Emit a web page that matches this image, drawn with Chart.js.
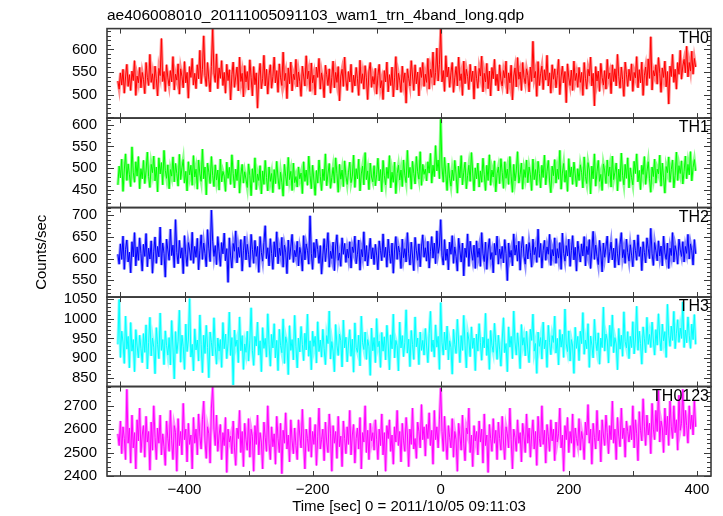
<!DOCTYPE html>
<html>
<head>
  <meta charset="UTF-8">
  <title>ae406008010 WAM light curve</title>
  <script src="https://cdn.jsdelivr.net/npm/chart.js"></script>
  <style>
    body { margin: 0; background: #fff; }
    #wrap { width: 723px; height: 516px; }
  </style>
</head>
<body>
  <div id="wrap"><canvas id="lc" width="723" height="516"></canvas></div>

  <script>
    // bin times, sec from 2011/10/05 09:11:03 (2 s bins)
    const times = [
      -504,-502,-500,-498,-496,-494,-492,-490,-488,-486,-484,-482,-480,-478,-476,-474,-472,-470,-468,-466,
      -464,-462,-460,-458,-456,-454,-452,-450,-448,-446,-444,-442,-440,-438,-436,-434,-432,-430,-428,-426,
      -424,-422,-420,-418,-416,-414,-412,-410,-408,-406,-404,-402,-400,-398,-396,-394,-392,-390,-388,-386,
      -384,-382,-380,-378,-376,-374,-372,-370,-368,-366,-364,-362,-360,-358,-356,-354,-352,-350,-348,-346,
      -344,-342,-340,-338,-336,-334,-332,-330,-328,-326,-324,-322,-320,-318,-316,-314,-312,-310,-308,-306,
      -304,-302,-300,-298,-296,-294,-292,-290,-288,-286,-284,-282,-280,-278,-276,-274,-272,-270,-268,-266,
      -264,-262,-260,-258,-256,-254,-252,-250,-248,-246,-244,-242,-240,-238,-236,-234,-232,-230,-228,-226,
      -224,-222,-220,-218,-216,-214,-212,-210,-208,-206,-204,-202,-200,-198,-196,-194,-192,-190,-188,-186,
      -184,-182,-180,-178,-176,-174,-172,-170,-168,-166,-164,-162,-160,-158,-156,-154,-152,-150,-148,-146,
      -144,-142,-140,-138,-136,-134,-132,-130,-128,-126,-124,-122,-120,-118,-116,-114,-112,-110,-108,-106,
      -104,-102,-100,-98,-96,-94,-92,-90,-88,-86,-84,-82,-80,-78,-76,-74,-72,-70,-68,-66,
      -64,-62,-60,-58,-56,-54,-52,-50,-48,-46,-44,-42,-40,-38,-36,-34,-32,-30,-28,-26,
      -24,-22,-20,-18,-16,-14,-12,-10,-8,-6,-4,-2,0,2,4,6,8,10,12,14,
      16,18,20,22,24,26,28,30,32,34,36,38,40,42,44,46,48,50,52,54,
      56,58,60,62,64,66,68,70,72,74,76,78,80,82,84,86,88,90,92,94,
      96,98,100,102,104,106,108,110,112,114,116,118,120,122,124,126,128,130,132,134,
      136,138,140,142,144,146,148,150,152,154,156,158,160,162,164,166,168,170,172,174,
      176,178,180,182,184,186,188,190,192,194,196,198,200,202,204,206,208,210,212,214,
      216,218,220,222,224,226,228,230,232,234,236,238,240,242,244,246,248,250,252,254,
      256,258,260,262,264,266,268,270,272,274,276,278,280,282,284,286,288,290,292,294,
      296,298,300,302,304,306,308,310,312,314,316,318,320,322,324,326,328,330,332,334,
      336,338,340,342,344,346,348,350,352,354,356,358,360,362,364,366,368,370,372,374,
      376,378,380,382,384,386,388,390,392,394,396,398
    ];

    const th0 = [
      530,512,548,521,556,503,539,567,518,544,509,552,531,575,498,541,526,560,515,549,
      533,502,571,538,520,589,527,546,512,563,535,497,558,542,624,529,551,507,566,537,
      519,553,528,584,510,545,532,568,501,557,540,515,573,526,549,492,562,538,580,521,
      547,513,566,535,598,524,556,630,542,518,571,533,506,562,645,548,527,590,513,559,
      536,575,520,549,503,567,531,555,488,544,572,516,539,561,508,583,529,547,495,564,
      528,551,510,577,538,497,562,522,548,470,541,569,513,535,587,519,556,501,543,566,
      514,540,583,526,553,505,568,537,520,594,531,547,491,559,524,572,508,545,533,578,
      517,550,529,496,563,541,519,586,535,552,507,570,526,543,499,561,538,580,512,548,
      530,493,565,544,520,557,503,538,574,515,549,527,562,486,541,556,518,583,532,509,
      551,528,567,505,543,519,560,535,498,576,525,546,512,564,537,489,552,571,516,540,
      523,558,501,542,567,515,531,489,553,528,572,506,544,520,561,495,537,584,510,547,
      532,505,563,527,548,481,557,536,519,575,541,509,566,524,550,497,560,538,571,518,
      545,527,580,512,556,538,594,521,549,603,530,567,645,528,553,507,586,539,561,516,
      548,571,505,537,562,519,583,531,546,498,574,524,556,540,511,567,529,552,490,563,
      536,514,558,541,585,506,547,528,569,513,552,497,560,535,578,520,545,508,566,532,
      519,553,537,574,502,548,526,565,488,541,559,517,582,534,550,509,571,538,524,557,
      542,506,561,529,618,537,551,496,573,520,546,563,511,555,532,587,519,548,503,566,
      534,557,515,542,578,500,539,563,526,551,482,568,537,520,554,509,574,531,547,516,
      560,527,549,498,571,536,512,556,541,583,519,547,475,562,530,552,507,569,538,521,
      553,512,578,535,548,502,566,529,557,519,589,540,514,561,533,496,572,545,518,556,
      531,568,507,549,537,584,515,555,526,572,498,543,561,520,579,536,628,510,553,541,
      566,523,582,547,505,559,538,574,517,551,479,563,540,589,527,556,512,571,545,598,
      534,563,578,548,607,539,571,552,596,545,580,561
    ];
    const th1 = [
      462,505,478,521,447,496,533,472,510,485,458,549,491,468,515,482,527,453,499,476,
      518,465,494,537,481,456,509,490,528,471,503,446,524,487,513,462,541,495,477,508,
      453,497,482,526,469,511,488,459,532,474,501,520,466,493,448,515,485,507,461,529,
      480,498,452,519,487,470,544,476,503,439,512,491,465,527,484,458,508,473,496,450,
      521,469,493,482,447,514,477,502,463,531,488,455,498,472,519,443,485,509,466,492,
      475,456,510,483,437,499,468,524,451,487,472,506,441,494,463,518,479,448,503,470,
      488,444,497,465,516,478,452,491,468,436,509,482,460,525,474,493,449,512,467,481,
      457,503,476,489,442,515,470,496,461,528,484,453,507,473,438,495,466,519,481,449,
      498,472,533,460,487,511,454,479,502,466,524,488,445,509,475,496,458,517,483,463,
      491,514,467,482,530,456,499,476,521,448,487,505,462,536,474,494,451,512,480,469,
      506,460,485,523,471,497,446,518,483,462,502,477,529,455,491,468,514,442,488,507,
      473,496,458,519,484,467,541,479,502,452,516,488,464,527,492,475,538,461,509,486,
      498,471,515,489,534,466,507,481,552,494,519,476,612,503,468,525,485,449,512,477,
      459,496,472,518,487,443,505,478,529,462,491,514,453,483,507,470,536,489,448,501,
      476,512,457,494,468,523,485,449,507,472,531,461,496,480,517,446,488,503,465,522,
      490,454,515,477,498,463,527,482,445,509,471,494,538,466,486,512,452,497,479,519,
      467,503,485,449,521,474,497,461,516,488,455,507,479,530,462,493,518,471,444,505,
      483,520,466,498,475,541,452,489,511,468,495,447,522,480,503,463,514,487,458,499,
      472,508,490,455,526,481,465,513,496,441,505,476,533,459,492,518,470,486,449,510,
      494,465,519,482,503,457,528,474,491,512,448,498,470,535,483,462,509,477,524,455,
      501,479,462,516,488,533,469,495,451,507,486,527,463,492,515,476,445,503,481,521,
      466,498,487,530,459,512,478,443,504,490,526,468,497,519,455,484,537,472,506,488,
      517,464,493,528,476,509,485,538,471,502,520,494
    ];
    const th2 = [
      610,587,634,598,652,575,621,643,592,615,567,639,604,660,583,627,596,648,612,571,
      633,605,658,581,624,599,641,566,617,650,589,628,604,673,585,636,612,557,645,620,
      596,668,607,631,579,690,614,588,642,601,625,565,653,610,582,637,620,596,661,589,
      628,603,647,574,619,655,598,636,612,581,667,624,593,712,640,605,630,586,651,617,
      582,637,611,659,595,623,545,648,606,578,635,617,664,590,626,603,644,571,618,652,
      597,633,610,580,656,621,589,642,605,628,568,651,614,594,637,676,600,625,583,646,
      612,575,639,604,662,588,624,607,649,580,631,615,565,643,598,627,656,591,619,604,
      640,583,626,610,571,653,597,634,619,587,699,612,575,637,602,645,621,589,630,564,
      608,646,593,625,660,580,617,600,638,572,629,655,596,613,582,648,610,635,591,622,
      601,639,578,627,614,652,588,610,643,573,621,604,662,594,630,583,617,647,599,625,
      586,633,608,574,641,619,595,657,603,626,580,645,612,589,636,566,620,651,598,629,
      614,577,645,602,623,592,660,611,585,638,606,572,649,618,596,634,581,627,655,603,
      625,594,640,578,617,651,601,636,588,664,612,629,690,607,585,644,596,622,574,638,
      610,653,589,627,605,571,647,618,592,636,560,624,603,657,582,640,615,596,631,577,
      641,603,624,582,660,611,593,638,575,620,646,598,614,567,635,608,652,587,622,600,
      628,590,644,612,549,636,603,619,583,657,608,631,594,640,573,624,651,605,587,633,
      599,637,614,580,645,609,626,591,668,603,635,578,619,642,596,627,610,656,584,621,
      606,648,589,623,601,637,575,659,612,594,630,606,645,582,618,653,597,626,571,640,
      615,592,634,606,651,583,628,609,644,577,620,663,598,631,605,586,642,613,569,636,
      603,627,652,590,616,638,597,624,579,646,611,585,633,660,602,621,589,645,614,594,
      632,608,581,643,619,596,655,605,627,572,639,614,590,648,623,600,670,611,584,637,
      618,595,641,606,629,583,652,613,598,636,577,624,607,660,592,630,615,587,645,620,
      605,639,592,628,612,656,599,634,618,585,644,611
    ];
    const th3 = [
      935,1048,902,968,941,887,1006,923,955,876,990,918,947,866,972,931,901,958,925,889,
      962,915,984,873,940,1003,906,951,928,861,977,935,899,1014,920,947,884,969,932,908,
      952,883,995,926,848,967,912,943,1021,890,958,929,872,986,917,946,1050,903,935,868,
      974,921,946,893,1009,935,864,958,912,983,927,851,966,940,906,1002,929,885,951,918,
      947,877,990,924,961,899,938,1016,907,952,833,971,930,946,889,1004,919,957,872,936,
      915,968,893,944,1027,920,882,955,931,991,908,944,866,977,925,950,903,1012,934,880,
      960,926,987,901,945,869,973,932,914,999,887,954,938,859,982,920,947,896,1008,929,
      876,951,916,980,935,894,963,921,1011,905,944,871,968,930,955,888,992,917,946,903,
      973,924,884,957,937,1019,898,942,918,866,985,933,907,961,944,878,996,926,953,891,
      936,972,905,948,865,989,927,915,958,881,1006,939,922,966,897,947,930,857,976,919,
      952,889,1000,929,943,877,965,918,954,896,983,936,871,959,924,1011,901,945,932,868,
      991,926,957,904,940,1022,913,948,879,970,935,897,1004,929,951,884,966,920,945,908,
      975,931,889,962,1018,917,946,903,984,928,955,872,1040,939,908,966,921,981,896,944,
      927,860,973,935,912,998,941,889,957,920,1008,933,876,965,946,904,979,925,951,869,
      961,918,987,940,895,953,926,1013,907,949,872,970,932,915,988,939,897,958,923,880,
      946,1002,914,937,866,979,928,955,899,1019,941,908,964,926,874,985,933,952,906,968,
      921,889,973,945,1011,918,937,862,966,930,952,898,991,924,946,877,983,939,909,957,
      940,1006,913,950,883,972,928,960,902,1024,936,917,969,893,947,931,862,978,925,955,
      894,968,937,1015,910,946,924,987,877,956,933,901,998,942,919,964,885,951,927,1029,
      918,961,946,888,983,930,1009,914,952,936,871,975,923,958,905,1017,942,926,967,899,
      955,927,992,911,946,1031,920,968,937,885,979,949,914,1003,935,960,927,991,946,908,
      972,933,1012,951,919,986,944,967,902,1036,958,930,981,945,1018,924,963,997,940,976,
      950,1042,927,971,939,1004,958,925,986,947,1010,935
    ];
    const th0123 = [
      2580,2530,2635,2495,2610,2560,2470,2770,2540,2605,2455,2660,2520,2585,2430,2640,2550,2690,2500,2575,
      2615,2480,2655,2545,2590,2425,2630,2510,2700,2565,2470,2605,2540,2660,2490,2580,2525,2445,2635,2560,
      2505,2680,2550,2470,2615,2585,2420,2645,2530,2590,2490,2710,2555,2600,2460,2625,2535,2575,2430,2650,
      2540,2600,2490,2665,2570,2515,2640,2720,2550,2475,2610,2580,2455,2690,2780,2600,2530,2660,2505,2575,
      2620,2470,2585,2530,2650,2415,2600,2545,2570,2495,2635,2520,2445,2605,2560,2680,2500,2590,2440,2625,
      2555,2510,2645,2480,2600,2570,2420,2615,2535,2660,2490,2585,2545,2430,2630,2565,2505,2700,2540,2470,
      2610,2525,2580,2450,2655,2560,2500,2625,2410,2595,2540,2670,2515,2575,2460,2640,2550,2495,2605,2530,
      2470,2640,2575,2520,2685,2545,2430,2600,2560,2505,2650,2480,2590,2535,2620,2445,2570,2690,2515,2555,
      2600,2465,2630,2545,2500,2665,2580,2420,2615,2540,2590,2475,2655,2525,2570,2440,2635,2560,2495,2610,
      2535,2680,2490,2575,2620,2455,2560,2605,2515,2650,2430,2585,2545,2700,2500,2595,2470,2625,2550,2585,
      2510,2640,2555,2470,2600,2530,2665,2490,2585,2420,2615,2560,2640,2505,2575,2450,2610,2545,2680,2530,
      2590,2460,2625,2550,2505,2650,2575,2440,2600,2535,2690,2515,2560,2475,2630,2590,2520,2705,2555,2610,
      2485,2620,2560,2670,2530,2595,2450,2680,2555,2610,2520,2640,2775,2590,2505,2655,2545,2470,2615,2565,
      2520,2645,2480,2590,2555,2420,2625,2570,2510,2660,2540,2465,2605,2580,2690,2500,2575,2440,2615,2550,
      2590,2490,2635,2545,2600,2455,2665,2530,2575,2415,2620,2560,2505,2645,2540,2595,2470,2630,2560,2510,
      2655,2545,2470,2610,2580,2520,2690,2555,2430,2600,2565,2505,2640,2540,2585,2460,2625,2570,2500,2665,
      2540,2605,2480,2575,2640,2515,2590,2445,2655,2560,2525,2700,2535,2595,2455,2620,2570,2505,2640,2550,
      2600,2465,2630,2545,2580,2690,2520,2575,2420,2615,2555,2650,2500,2590,2540,2665,2480,2605,2560,2530,
      2645,2510,2590,2555,2470,2630,2575,2705,2540,2600,2450,2625,2565,2515,2680,2550,2595,2460,2640,2575,
      2530,2660,2585,2495,2615,2555,2720,2540,2600,2470,2650,2570,2525,2690,2560,2605,2480,2635,2590,2545,
      2615,2555,2700,2520,2640,2580,2465,2675,2595,2550,2730,2610,2530,2660,2575,2625,2495,2710,2600,2555,
      2680,2590,2765,2545,2635,2605,2500,2690,2575,2655,2530,2720,2610,2560,2700,2585,2640,2510,2745,2595,
      2625,2770,2570,2680,2615,2540,2700,2600,2660,2575,2720,2610
    ];

    const panelNames = ['TH0', 'TH1', 'TH2', 'TH3', 'TH0123'];
    const panelSeries = [th0, th1, th2, th3, th0123];
    const panelMin = [448, 410, 511, 829, 2400];
    const panelMax = [646, 615, 718, 1054, 2782];
    const panelTicks = [
      [500, 550, 600],
      [450, 500, 550, 600],
      [550, 600, 650, 700],
      [850, 900, 950, 1000, 1050],
      [2400, 2500, 2600, 2700]
    ];
    const panelMinor = [10, 10, 10, 10, 20];
    const panelMajor = [50, 50, 50, 50, 100];
    const xTicks = [-400, -200, 0, 200, 400];
    const xMarks = [-500, -400, -300, -200, -100, 0, 100, 200, 300, 400];

    const lineColors = ['#ff0000', '#00ff00', '#0000ff', '#00ffff', '#ff00ff'];
    const paleColors = ['#ff8c8c', '#8cff8c', '#8c8cff', '#8cffff', '#ff8cff'];

    const font = '"Liberation Sans", Arial, sans-serif';

    const datasets = [];
    panelSeries.forEach((vals, i) => {
      const pts = vals.map((v, k) => ({ x: times[k], y: v }));
      datasets.push({
        data: pts, yAxisID: 'y' + i, borderColor: lineColors[i],
        borderWidth: 1, pointRadius: 0, order: 1
      });
      // pale halo standing in for the error bars
      datasets.push({
        data: pts, yAxisID: 'y' + i, borderColor: paleColors[i],
        borderWidth: 3, pointRadius: 0, order: 2
      });
    });

    const scales = {
      x: {
        type: 'linear', min: -521, max: 422,
        afterBuildTicks: s => { s.ticks = xTicks.map(v => ({ value: v })); },
        afterFit: s => { s.height = 40; },
        grid: { display: false, drawTicks: false },
        border: { display: false },
        ticks: {
          padding: 5, color: '#000', autoSkip: false, maxRotation: 0,
          font: { family: font, size: 15 },
          callback: v => String(v).replace('-', '\u2212')
        },
        title: {
          display: true, text: 'Time [sec] 0 = 2011/10/05 09:11:03',
          color: '#000', font: { family: font, size: 15 }, padding: { top: 0, bottom: 0 }
        }
      }
    };
    // left axes stack from the last defined (top) down, so add bottom panel first
    for (let i = panelNames.length - 1; i >= 0; i--) {
      scales['y' + i] = {
        type: 'linear', position: 'left', stack: 'panels', stackWeight: 1,
        min: panelMin[i], max: panelMax[i],
        afterBuildTicks: s => { s.ticks = panelTicks[i].map(v => ({ value: v })); },
        afterFit: s => { s.width = 78; },
        grid: { display: false, drawTicks: false },
        border: { display: false },
        ticks: {
          padding: 10, color: '#000', autoSkip: false,
          font: { family: font, size: 15 },
          callback: v => String(v)
        },
        title: {
          display: i === 2, text: 'Counts/sec', color: '#000',
          font: { family: font, size: 15 }, padding: { top: 4, bottom: 0 }
        }
      };
    }

    const framePlugin = {
      id: 'frames',
      afterDatasetsDraw(chart) {
        const { ctx, chartArea: { left, right } } = chart;
        const xs = chart.scales.x;
        ctx.save();
        ctx.strokeStyle = '#3a3a3a';
        panelNames.forEach((name, i) => {
          const s = chart.scales['y' + i];
          ctx.lineWidth = 1;
          ctx.beginPath();
          const first = Math.ceil(s.min / panelMinor[i]) * panelMinor[i];
          for (let v = first; v <= s.max; v += panelMinor[i]) {
            const y = Math.round(s.getPixelForValue(v)) + 0.5;
            const len = v % panelMajor[i] === 0 ? 7 : 4;
            ctx.moveTo(left, y); ctx.lineTo(left + len, y);
            ctx.moveTo(right, y); ctx.lineTo(right - len, y);
          }
          xMarks.forEach(v => {
            const px = Math.round(xs.getPixelForValue(v)) + 0.5;
            ctx.moveTo(px, s.top); ctx.lineTo(px, s.top + 5);
            ctx.moveTo(px, s.bottom); ctx.lineTo(px, s.bottom - 5);
          });
          ctx.stroke();
          ctx.lineWidth = 1.6;
          ctx.strokeRect(left, s.top, right - left, s.bottom - s.top);
          ctx.fillStyle = '#000';
          ctx.font = '16px ' + font;
          ctx.textAlign = 'right';
          ctx.textBaseline = 'middle';
          ctx.fillText(name, right - 2, s.top + 10);
        });
        ctx.restore();
      }
    };

    new Chart(document.getElementById('lc'), {
      type: 'line',
      data: { datasets },
      options: {
        responsive: false,
        animation: false,
        layout: { padding: { left: 29, right: 12, top: 0, bottom: 0 } },
        elements: { line: { tension: 0 } },
        scales,
        plugins: {
          legend: { display: false },
          tooltip: { enabled: false },
          title: {
            display: true, fullSize: false, align: 'start',
            text: 'ae406008010_20111005091103_wam1_trn_4band_long.qdp',
            color: '#000', font: { family: font, size: 15.5, weight: 'normal' },
            padding: { top: 6, bottom: 4 }
          }
        }
      },
      plugins: [framePlugin]
    });
  </script>
</body>
</html>
